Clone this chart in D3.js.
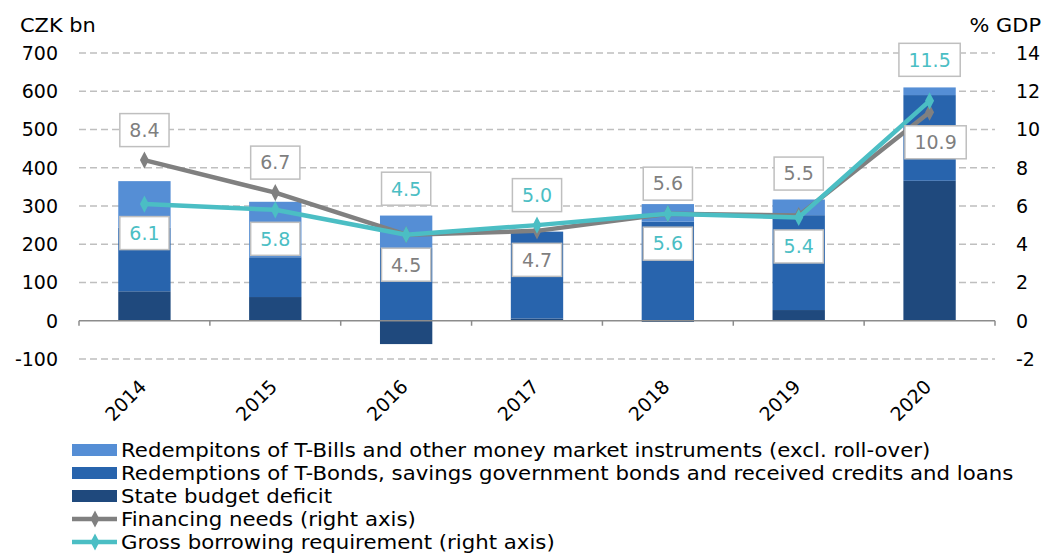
<!DOCTYPE html>
<html>
<head>
<meta charset="utf-8">
<script src="https://cdn.jsdelivr.net/npm/d3@7"></script>
<style>
  body { margin: 0; background: #fff; }
  svg { display: block; font-family: "DejaVu Sans", Verdana, sans-serif; }
</style>
</head>
<body>
<div id="chart"></div>
<script>
// values
const years = ['2014', '2015', '2016', '2017', '2018', '2019', '2020'];
const deficit = [77, 62, -61, 6, -3, 28, 366];          // CZK bn
const tBonds = [166, 104, 190, 227, 259, 248, 224];     // CZK bn
const tBills = [122, 145, 85, 0, 46, 41, 20];           // CZK bn
const financingNeeds = [8.4, 6.7, 4.5, 4.7, 5.6, 5.5, 10.9];   // % GDP
const grossBorrowing = [6.1, 5.8, 4.5, 5.0, 5.6, 5.4, 11.5];   // % GDP
const leftTicks = [-100, 0, 100, 200, 300, 400, 500, 600, 700];
const rightTicks = [-2, 0, 2, 4, 6, 8, 10, 12, 14];

const legendNames = [
  'Redempitons of T-Bills and other money market instruments (excl. roll-over)',
  'Redemptions of T-Bonds, savings government bonds and received credits and loans',
  'State budget deficit',
  'Financing needs (right axis)',
  'Gross borrowing requirement (right axis)'
];

// label placement (vertical offset from the point), like the manual moves in the original
const fnLabelDy = [-30, -30, 30, 29, -30, -42, 30];
const fnLabelDx = [0, 0, 0, 0, 0, 0, 6];
const gbrLabelDy = [29, 29, -46, -30, 30, 29, -41];

const colBills = '#558ed5';
const colBonds = '#2864ad';
const colDeficit = '#1f497d';
const colFN = '#808080';
const colGBR = '#4bbec4';

const W = 1051, H = 553;
const plot = { left: 79, right: 995, top: 53, bottom: 359 };

const svg = d3.select('#chart').append('svg')
  .attr('width', W)
  .attr('height', H);

const x = d3.scaleBand().domain(years).range([plot.left, plot.right]).padding(0);
const yL = d3.scaleLinear().domain([-100, 700]).range([plot.bottom, plot.top]);
const yR = d3.scaleLinear().domain([-2, 14]).range([plot.bottom, plot.top]);
const barW = x.bandwidth() * 0.4;
const cx = d => x(d) + x.bandwidth() / 2;

// gridlines
svg.append('g')
  .selectAll('line')
  .data(leftTicks.filter(t => t !== 0))
  .enter().append('line')
  .attr('x1', plot.left)
  .attr('x2', plot.right)
  .attr('y1', d => yL(d))
  .attr('y2', d => yL(d))
  .attr('stroke', '#bfbfbf')
  .attr('stroke-width', 1.5)
  .attr('stroke-dasharray', '7,4');

// stacked bars
const rows = years.map((yr, i) => ({ year: yr, deficit: deficit[i], bonds: tBonds[i], bills: tBills[i] }));
const stack = d3.stack()
  .keys(['deficit', 'bonds', 'bills'])
  .offset(d3.stackOffsetDiverging);
const series = stack(rows);
const colors = { deficit: colDeficit, bonds: colBonds, bills: colBills };

svg.append('g')
  .selectAll('g')
  .data(series)
  .enter().append('g')
  .attr('fill', d => colors[d.key])
  .selectAll('rect')
  .data(d => d)
  .enter().append('rect')
  .attr('x', d => cx(d.data.year) - barW / 2)
  .attr('width', barW)
  .attr('y', d => yL(Math.max(d[0], d[1])))
  .attr('height', d => Math.abs(yL(d[0]) - yL(d[1])));

// zero axis line with ticks between categories
const axisG = svg.append('g');
axisG.append('line')
  .attr('x1', plot.left).attr('x2', plot.right)
  .attr('y1', yL(0)).attr('y2', yL(0))
  .attr('stroke', '#8c8c8c').attr('stroke-width', 1.5);
axisG.selectAll('.tick')
  .data(years.map(d => x(d)).concat([plot.right]))
  .enter().append('line')
  .attr('x1', d => d).attr('x2', d => d)
  .attr('y1', yL(0)).attr('y2', yL(0) + 5)
  .attr('stroke', '#8c8c8c').attr('stroke-width', 1.5);

// left axis labels
svg.append('g')
  .selectAll('text')
  .data(leftTicks)
  .enter().append('text')
  .attr('x', 58)
  .attr('y', d => yL(d))
  .attr('dy', '0.36em')
  .attr('text-anchor', 'end')
  .attr('font-size', 19)
  .attr('fill', '#000')
  .text(d => d);

// right axis labels
svg.append('g')
  .selectAll('text')
  .data(rightTicks)
  .enter().append('text')
  .attr('x', 1016)
  .attr('y', d => yR(d))
  .attr('dy', '0.36em')
  .attr('text-anchor', 'start')
  .attr('font-size', 19)
  .attr('fill', '#000')
  .text(d => d);

svg.append('text').attr('transform', 'translate(20,32) scale(1.1,1)').attr('font-size', 19).text('CZK bn');
svg.append('text').attr('transform', 'translate(1041,32) scale(1.1,1)').attr('text-anchor', 'end').attr('font-size', 19).text('% GDP');

// category labels, rotated
svg.append('g')
  .selectAll('text')
  .data(years)
  .enter().append('text')
  .attr('text-anchor', 'end')
  .attr('font-size', 19)
  .attr('transform', d => `translate(${cx(d) + 3},${388}) rotate(-45)`)
  .text(d => d);

// lines with diamond markers
const diamond = d3.symbol().type(d3.symbolDiamond).size(70);

function drawLine(values, color) {
  const line = d3.line()
    .x((d, i) => cx(years[i]))
    .y(d => yR(d));
  svg.append('path')
    .datum(values)
    .attr('d', line)
    .attr('fill', 'none')
    .attr('stroke', color)
    .attr('stroke-width', 4.5)
    .attr('stroke-linejoin', 'round');
  svg.append('g')
    .selectAll('path')
    .data(values)
    .enter().append('path')
    .attr('d', diamond)
    .attr('transform', (d, i) => `translate(${cx(years[i])},${yR(d)}) scale(1,1.1)`)
    .attr('fill', color);
}
drawLine(financingNeeds, colFN);
drawLine(grossBorrowing, colGBR);

// boxed data labels
function drawLabels(values, dys, dxs, color) {
  const g = svg.append('g')
    .selectAll('g')
    .data(values)
    .enter().append('g')
    .attr('transform', (d, i) => `translate(${cx(years[i]) + (dxs ? dxs[i] : 0)},${yR(d) + dys[i]})`);
  const rect = g.append('rect')
    .attr('fill', '#fff')
    .attr('stroke', '#bfbfbf')
    .attr('stroke-width', 1.5);
  const txt = g.append('text')
    .attr('text-anchor', 'middle')
    .attr('dy', '0.36em')
    .attr('font-size', 19)
    .attr('fill', color)
    .text(d => d.toFixed(1));
  txt.each(function(d, i) {
    const w = this.getComputedTextLength() + 19;
    d3.select(rect.nodes()[i])
      .attr('x', -w / 2).attr('width', w)
      .attr('y', -16.5).attr('height', 33);
  });
}
drawLabels(financingNeeds, fnLabelDy, fnLabelDx, '#7f7f7f');
drawLabels(grossBorrowing, gbrLabelDy, null, colGBR);

// legend
const legend = svg.append('g');
const legendY = [450, 473, 496, 519, 542];
const legendItems = legendNames.map((name, i) => ({ name: name, y: legendY[i], i: i }));
const li = legend.selectAll('g')
  .data(legendItems)
  .enter().append('g')
  .attr('transform', d => `translate(0,${d.y})`);

li.filter(d => d.i < 3).append('rect')
  .attr('x', 72).attr('y', -6)
  .attr('width', 45).attr('height', 12)
  .attr('fill', d => [colBills, colBonds, colDeficit][d.i]);

li.filter(d => d.i >= 3).append('line')
  .attr('x1', 72).attr('x2', 117)
  .attr('y1', 0).attr('y2', 0)
  .attr('stroke', d => d.i === 3 ? colFN : colGBR)
  .attr('stroke-width', 4.5);
li.filter(d => d.i >= 3).append('path')
  .attr('d', diamond)
  .attr('transform', 'translate(95,0) scale(1,1.1)')
  .attr('fill', d => d.i === 3 ? colFN : colGBR);

// legend text in the reference is set noticeably wider than DejaVu, so stretch it a bit
li.append('text')
  .attr('transform', 'translate(121,0) scale(1.12,1)')
  .attr('dy', '0.36em')
  .attr('font-size', 19)
  .attr('fill', '#000')
  .text(d => d.name);
</script>
</body>
</html>
